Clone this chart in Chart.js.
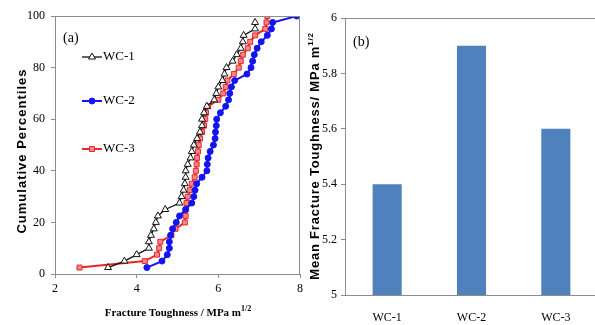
<!DOCTYPE html>
<html>
<head>
<meta charset="utf-8">
<script src="https://cdn.jsdelivr.net/npm/chart.js@4/dist/chart.umd.min.js"></script>
<style>
html, body { margin: 0; padding: 0; background: #fff; overflow: hidden; width: 595px; height: 325px; }
#leftCanvas { position: absolute; left: 0; top: 0; }
#rightCanvas { position: absolute; left: 300px; top: 0; }
</style>
</head>
<body>
<canvas id="leftCanvas" width="307" height="325"></canvas>
<canvas id="rightCanvas" width="300" height="325"></canvas>
<script>
// (a) cumulative percentiles
const percentiles = [2.5, 5, 7.5, 10, 12.5, 15, 17.5, 20, 22.5, 25, 27.5, 30, 32.5, 35, 37.5, 40,
    42.5, 45, 47.5, 50, 52.5, 55, 57.5, 60, 62.5, 65, 67.5, 70, 72.5, 75, 77.5, 80,
    82.5, 85, 87.5, 90, 92.5, 95, 97.5, 100];
const toughWC1 = [3.3, 3.7, 4.0, 4.3, 4.3, 4.35, 4.42, 4.47, 4.52, 4.7, 5.05, 5.1, 5.15, 5.18, 5.2, 5.2,
    5.25, 5.32, 5.35, 5.4, 5.48, 5.55, 5.6, 5.6, 5.65, 5.72, 5.9, 5.95, 6.0, 6.1, 6.15, 6.2,
    6.35, 6.45, 6.55, 6.6, 6.62, 6.9, 6.9];
const toughWC2 = [4.25, 4.62, 4.75, 4.8, 4.8, 4.83, 4.88, 4.97, 5.05, 5.2, 5.35, 5.4, 5.43, 5.47, 5.6, 5.72,
    5.73, 5.75, 5.8, 5.88, 5.92, 5.93, 5.95, 5.96, 6.05, 6.18, 6.25, 6.28, 6.32, 6.4, 6.7, 6.8,
    6.84, 6.88, 6.95, 7.05, 7.2, 7.3, 7.33, 7.92];
const toughWC3 = [2.6, 4.2, 4.5, 4.55, 4.58, 4.85, 4.95, 5.18, 5.2, 5.2, 5.22, 5.25, 5.3, 5.35, 5.42, 5.45,
    5.47, 5.48, 5.5, 5.52, 5.55, 5.6, 5.65, 5.68, 5.7, 5.75, 6.0, 6.12, 6.18, 6.22, 6.38, 6.5,
    6.55, 6.6, 6.72, 6.78, 6.9, 7.15, 7.18, 7.2];
const xTicks = [2, 4, 6, 8];
const yTicks = [0, 20, 40, 60, 80, 100];

// (b) mean values
const samples = ['WC-1', 'WC-2', 'WC-3'];
const meanTough = [5.4, 5.9, 5.6];
const meanTicks = [5, 5.2, 5.4, 5.6, 5.8, 6];

const serif = '"Liberation Serif", "Times New Roman", serif';
const sans = '"Liberation Sans", Arial, sans-serif';

let toPoints = function (xs) {
    return xs.map(function (x, i) { return { x: x, y: percentiles[i] }; });
};

// text with a 1/2 superscript at the end, centred on x
let drawSupText = function (ctx, main, sup, x, y, font, size, supSize) {
    ctx.font = 'bold ' + size + 'px ' + font;
    let w1 = ctx.measureText(main).width;
    ctx.font = 'bold ' + supSize + 'px ' + font;
    let w2 = ctx.measureText(sup).width;
    let start = x - (w1 + w2) / 2;
    ctx.textAlign = 'left';
    ctx.textBaseline = 'middle';
    ctx.font = 'bold ' + size + 'px ' + font;
    ctx.fillText(main, start, y);
    ctx.font = 'bold ' + supSize + 'px ' + font;
    ctx.fillText(sup, start + w1, y - size * 0.35);
};

let boxPlugin = {
    id: 'box',
    afterDraw: function (chart) {
        let a = chart.chartArea;
        let ctx = chart.ctx;
        ctx.save();
        ctx.strokeStyle = '#8c8c8c';
        ctx.lineWidth = 1;
        ctx.beginPath();
        ctx.moveTo(a.left, a.top + 0.5);
        ctx.lineTo(a.right - 0.5, a.top + 0.5);
        ctx.lineTo(a.right - 0.5, a.bottom);
        ctx.stroke();
        ctx.restore();
    }
};

let leftDecor = {
    id: 'leftDecor',
    afterDatasetsDraw: function (chart) {
        let ctx = chart.ctx;
        ctx.save();
        ctx.fillStyle = '#000';
        ctx.font = '14px ' + serif;
        ctx.textAlign = 'left';
        ctx.textBaseline = 'middle';
        ctx.fillText('(a)', 63, 38);

        // legend inside the plot
        let rows = [57, 101, 149];
        chart.data.datasets.forEach(function (ds, i) {
            let y = rows[i];
            ctx.strokeStyle = ds.borderColor;
            ctx.lineWidth = ds.borderWidth;
            ctx.beginPath();
            ctx.moveTo(82, y);
            ctx.lineTo(102, y);
            ctx.stroke();
            ctx.fillStyle = ds.pointBackgroundColor;
            ctx.strokeStyle = ds.pointBorderColor;
            ctx.lineWidth = 1;
            Chart.helpers.drawPoint(ctx, { pointStyle: ds.pointStyle, radius: ds.pointRadius, borderWidth: 1, rotation: 0 }, 92, y);
            ctx.fillStyle = '#000';
            ctx.font = '13px ' + serif;
            ctx.fillText(ds.label, 103, y);
        });

        // axis titles
        ctx.fillStyle = '#000';
        drawSupText(ctx, 'Fracture Toughness / MPa m', '1/2', 178, 313, serif, 11, 8);
        ctx.translate(22, 151);
        ctx.rotate(-Math.PI / 2);
        ctx.letterSpacing = '1px';
        ctx.font = 'bold 13px ' + sans;
        ctx.textAlign = 'center';
        ctx.textBaseline = 'middle';
        ctx.fillText('Cumulative Percentiles', 0, 0);
        ctx.restore();
    }
};

let rightDecor = {
    id: 'rightDecor',
    afterDatasetsDraw: function (chart) {
        let ctx = chart.ctx;
        ctx.save();
        ctx.fillStyle = '#000';
        ctx.font = '14px ' + serif;
        ctx.textAlign = 'left';
        ctx.textBaseline = 'middle';
        ctx.fillText('(b)', 53, 42);

        ctx.translate(15, 156);
        ctx.rotate(-Math.PI / 2);
        ctx.letterSpacing = '0.8px';
        drawSupText(ctx, 'Mean Fracture Toughness/ MPa m', '1/2', 0, 0, sans, 13, 8);
        ctx.restore();
    }
};

let tickFont = { family: serif, size: 12 };
let axisGrid = { display: true, drawOnChartArea: false, drawTicks: true, tickLength: 4, color: '#8c8c8c' };

new Chart(document.getElementById('leftCanvas').getContext('2d'), {
    type: 'scatter',
    data: {
        datasets: [{
            label: 'WC-1',
            data: toPoints(toughWC1),
            showLine: true,
            borderColor: '#111111',
            borderWidth: 1.3,
            pointStyle: 'triangle',
            pointRadius: 4,
            pointBackgroundColor: '#ffffff',
            pointBorderColor: '#111111',
            pointBorderWidth: 1
        }, {
            label: 'WC-2',
            data: toPoints(toughWC2),
            showLine: true,
            borderColor: '#1414f0',
            borderWidth: 2,
            pointStyle: 'circle',
            pointRadius: 3,
            pointBackgroundColor: '#1414f0',
            pointBorderColor: '#1414f0',
            pointBorderWidth: 1
        }, {
            label: 'WC-3',
            data: toPoints(toughWC3),
            showLine: true,
            borderColor: '#e8262b',
            borderWidth: 2,
            pointStyle: 'rect',
            pointRadius: 3.5,
            pointBackgroundColor: '#f08a8a',
            pointBorderColor: '#e8262b',
            pointBorderWidth: 1
        }]
    },
    options: {
        responsive: false,
        animation: false,
        layout: { padding: { top: 16, right: 4, left: 0, bottom: 0 } },
        plugins: { legend: { display: false }, tooltip: { enabled: false } },
        scales: {
            x: {
                type: 'linear', min: 2, max: 8,
                afterBuildTicks: function (s) { s.ticks = xTicks.map(function (v) { return { value: v }; }); },
                afterFit: function (s) { s.height = 51; },
                ticks: { font: tickFont, color: '#000', padding: 4 },
                grid: axisGrid,
                border: { color: '#8c8c8c' }
            },
            y: {
                min: 0, max: 100,
                afterBuildTicks: function (s) { s.ticks = yTicks.map(function (v) { return { value: v }; }); },
                afterFit: function (s) { s.width = 55; },
                ticks: { font: tickFont, color: '#000', padding: 6 },
                grid: axisGrid,
                border: { color: '#8c8c8c' }
            }
        }
    },
    plugins: [boxPlugin, leftDecor]
});

new Chart(document.getElementById('rightCanvas').getContext('2d'), {
    type: 'bar',
    data: {
        labels: samples,
        datasets: [{
            data: meanTough,
            backgroundColor: '#4f81bd',
            borderWidth: 0,
            categoryPercentage: 1,
            barPercentage: 0.345
        }]
    },
    options: {
        responsive: false,
        animation: false,
        layout: { padding: { top: 18, right: 2, left: 0, bottom: 0 } },
        plugins: { legend: { display: false }, tooltip: { enabled: false } },
        scales: {
            x: {
                afterFit: function (s) { s.height = 30; },
                ticks: { font: tickFont, color: '#000', padding: 8 },
                grid: { display: false },
                border: { color: '#8c8c8c' }
            },
            y: {
                min: 5, max: 6,
                afterBuildTicks: function (s) { s.ticks = meanTicks.map(function (v) { return { value: v }; }); },
                afterFit: function (s) { s.width = 45; },
                ticks: {
                    font: tickFont, color: '#000', padding: 4,
                    callback: function (v) { return String(Math.round(v * 10) / 10); }
                },
                grid: axisGrid,
                border: { color: '#8c8c8c' }
            }
        }
    },
    plugins: [boxPlugin, rightDecor]
});
</script>
</body>
</html>
